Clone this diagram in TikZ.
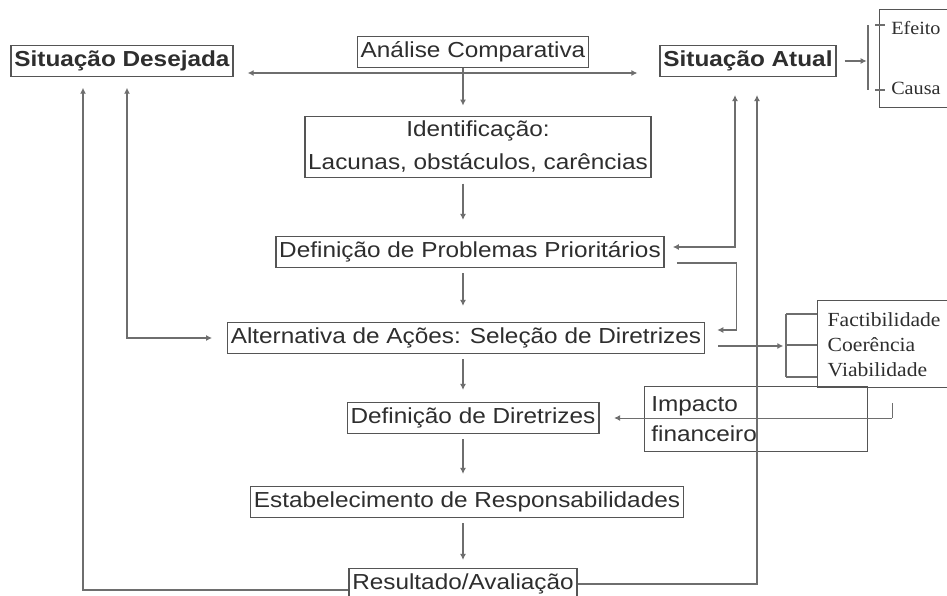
\documentclass[tikz,border=0pt]{standalone}
\usepackage{fontspec}
\setmainfont{Liberation Sans}[FakeStretch=1.12]
\newfontfamily\timesfont{Liberation Serif}[FakeStretch=1.08]
\usetikzlibrary{arrows.meta, positioning}
\definecolor{L}{HTML}{6E6E6E}
\definecolor{B}{HTML}{555555}
\definecolor{T}{HTML}{2E2E2E}

\begin{document}
\begin{tikzpicture}[x=0.75pt, y=-0.75pt, ->, >={Latex[length=4.5pt, width=4.5pt]},
    box/.style={draw=B, line width=1.1pt, text=T, inner xsep=2.5pt,
      inner ysep=1pt, minimum height=23pt,
      font=\fontsize{16.3}{20}\selectfont},
    conn/.style={draw=L, line width=0.9pt, shorten >=9pt, shorten <=4pt},
    bline/.style={-, draw=L, line width=0.9pt},
    serif/.style={text=T, inner sep=0pt,
      font=\timesfont\fontsize{14}{18.75}\selectfont}]
      \useasboundingbox (0,0) rectangle (947,596);
      \fill[-, white] (0,0) rectangle (947,596);

      \node[box] (analise) at (473,52) {Análise Comparativa};
      \node[box, font=\fontsize{16.3}{20}\selectfont\bfseries]
        (desejada) at (122,61) {Situação Desejada};
      \node[box, font=\fontsize{16.3}{20}\selectfont\bfseries]
        (atual) at (748,61) {Situação Atual};
      \node[box, align=center, minimum height=46pt]
        (ident) at (478,147) {Identificação:\\[4.75pt]Lacunas, obstáculos, carências};
      \node[box] (defprob) at (470,252) {Definição de Problemas Prioritários};
      \node[box] (altern) at (466,338) {Alternativa de Ações: Seleção de Diretrizes};
      \node[box] (defdir) at (473,418) {Definição de Diretrizes};
      \node[box] (estab) at (467,502) {Estabelecimento de Responsabilidades};
      \node[box] (result) at (463,584) {Resultado/Avaliação};

      \node[box, align=left, text width=157pt, minimum height=48.75pt,
        inner xsep=5pt] (impacto) at (756,419) {Impacto\\[2.5pt]financeiro};
      \node[box, serif, draw=B, anchor=north west, align=left,
        text width=86pt, minimum height=65.25pt, inner xsep=7.5pt,
        font=\timesfont\fontsize{15}{18.75}\selectfont]
        (factib) at (817,300) {Factibilidade\\Coerência\\Viabilidade};
      \node[box, anchor=north west, minimum width=53pt, minimum height=73.5pt]
        (efbox) at (879,9) {};
      \node[serif, anchor=west] (efeito) at (891,28) {Efeito};
      \node[serif, anchor=west] (causa) at (891,88) {Causa};

      \coordinate (col) at (463,73);
      \coordinate (brk) at (786,346);
      \coordinate (efbrk) at (868,61);
      \coordinate (imptick) at (892,418);

      \draw[conn, shorten <=0pt, shorten >=7.5pt]
        (analise.south -| col) -- (ident.north -| col);
      \draw[conn, <->, shorten <=10.5pt, shorten >=16.5pt]
        (desejada.east |- col) -- (atual.west |- col);
      \draw[conn, shorten >=12pt] (ident.south -| col) -- (defprob.north -| col);
      \draw[conn, shorten >=12pt] (defprob.south -| col) -- (altern.north -| col);
      \draw[conn] (altern.south -| col) -- (defdir.north -| col);
      \draw[conn] (defdir.south -| col) -- (estab.north -| col);
      \draw[conn, shorten >=6pt] (estab.south -| col) -- (result.north -| col);

      \draw[conn, <->, shorten <=8pt, shorten >=11pt]
        ([xshift=3.75pt]desejada.south) |- (altern.west);
      \draw[conn, <->, shorten <=6pt, shorten >=13.5pt]
        ([yshift=3.75pt]defprob.east) -| ([xshift=-9.75pt]atual.south);
      \draw[conn, shorten <=9pt]
        ([yshift=-8.25pt]defprob.east) -- ++(72,0) |- ([yshift=6pt]altern.east);
      \draw[conn, shorten <=0pt, shorten >=8pt]
        ([yshift=-4.5pt]result.west) -| ([xshift=-29.25pt]desejada.south);
      \draw[conn, shorten <=0pt, shorten >=13.5pt]
        (result.east) -| ([xshift=6.75pt]atual.south);

      \draw[conn, line width=1.6pt, shorten <=9.75pt, shorten >=2pt]
        ([yshift=-6pt]altern.east) -- (brk);
      \draw[bline] (786,314) -- (786,377);
      \foreach \y in {314,345,377}
        \draw[bline] (786,\y) -- (factib.west |- 0,\y);

      \draw[conn, shorten <=6pt, shorten >=1pt] (atual.east) -- (efbrk);
      \draw[bline] (868,25) -- (868,90);
      \foreach \y in {25,90}
        \draw[bline] (875,\y) -- (885,\y);

      \draw[bline, line width=0.7pt] (892,403) -- (imptick);
      \draw[conn, line width=0.7pt, shorten <=0pt, shorten >=11pt]
        (imptick) -- (defdir.east);
    \end{tikzpicture}
\end{document}
